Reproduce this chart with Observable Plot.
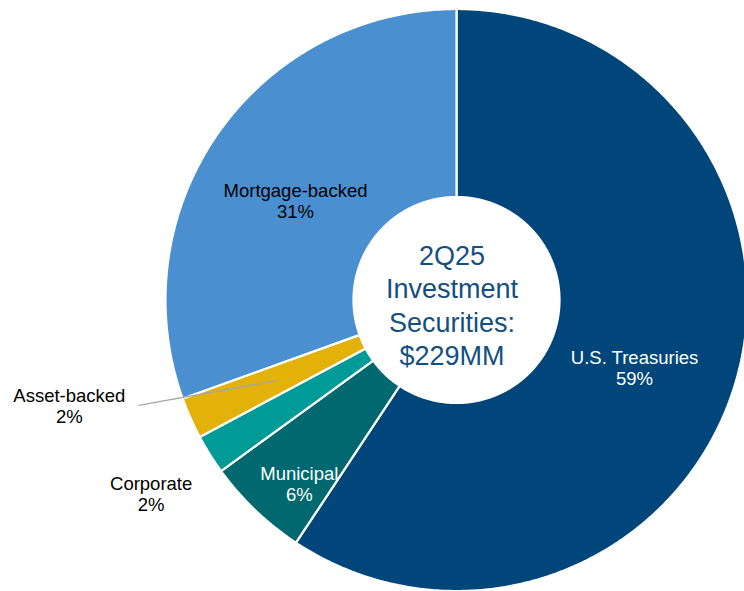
<!DOCTYPE html>
<html>
<head>
<meta charset="utf-8">
<script src="https://cdn.jsdelivr.net/npm/d3@7"></script>
<script src="https://cdn.jsdelivr.net/npm/@observablehq/plot@0.6"></script>
<style>
  html, body { margin: 0; padding: 0; background: #fff; overflow: hidden; }
  #chart svg { display: block; }
</style>
</head>
<body>
<div id="chart"></div>
<script>
// ---- data ----
const categories = ["U.S. Treasuries", "Municipal", "Corporate", "Asset-backed", "Mortgage-backed"];
const shares = [59.3, 5.7, 2.2, 2.3, 30.5]; // percent of $229MM
const centerTitle = ["2Q25", "Investment", "Securities:", "$229MM"];

// ---- style / layout ----
const colors = ["#00467A", "#00686F", "#009B96", "#E2B20A", "#4A8FD0"];
const labelColors = ["#ffffff", "#ffffff", "#000000", "#000000", "#000000"];
// label placement: radius (in outer-radius units) and angle offset (deg) from slice middle
const labelRadius = [0.652, 0.832, 1.244, 1.380, 0.653];
const labelAngleOffset = [3.9, -3.1, -0.3, 8.8, -3.3];
const leaderFor = "Asset-backed";
const leaderInner = {r: 0.678, da: 0};
const leaderOuter = {r: 1.152, da: 5.7};
const innerRadius = 0.354;

const W = 744, H = 591;
const cx = 456.5, cy = 300, R = 291;

// ---- pie geometry (angles clockwise from 12 o'clock) ----
const pie = d3.pie().sort(null).value(d => d.share)(categories.map((c, i) => ({category: c, share: shares[i], i})));
const polar = (r, a) => [r * Math.sin(a), r * Math.cos(a)];
const deg = Math.PI / 180;

const ring = [];
for (const p of pie) {
  const n = Math.max(2, Math.ceil((p.endAngle - p.startAngle) / deg * 2));
  for (let k = 0; k <= n; k++) {
    const a = p.startAngle + (p.endAngle - p.startAngle) * k / n;
    const [xi, yi] = polar(innerRadius, a);
    const [xo, yo] = polar(1, a);
    ring.push({category: p.data.category, xi, yi, xo, yo});
  }
}

const labels = pie.map(p => {
  const i = p.data.i;
  const mid = (p.startAngle + p.endAngle) / 2 + labelAngleOffset[i] * deg;
  const [x, y] = polar(labelRadius[i], mid);
  return {x, y, color: labelColors[i], text: `${p.data.category}\n${Math.round(p.data.share)}%`};
});

const leaders = pie.filter(p => p.data.category === leaderFor).map(p => {
  const mid = (p.startAngle + p.endAngle) / 2;
  const [x1, y1] = polar(leaderInner.r, mid + leaderInner.da * deg);
  const [x2, y2] = polar(leaderOuter.r, mid + leaderOuter.da * deg);
  return {x1, y1, x2, y2};
});

const chart = Plot.plot({
  width: W,
  height: H,
  margin: 0,
  style: {fontFamily: "'Liberation Sans', Arial, Helvetica, sans-serif", background: "#fff", overflow: "hidden"},
  x: {domain: [-cx / R, (W - cx) / R], axis: null},
  y: {domain: [-(H - cy) / R, cy / R], axis: null},
  color: {domain: categories, range: colors},
  marks: [
    Plot.area(ring, {x1: "xi", y1: "yi", x2: "xo", y2: "yo", z: "category", fill: "category",
      stroke: "#ffffff", strokeWidth: 2.2, strokeLinejoin: "miter"}),
    Plot.link(leaders, {x1: "x1", y1: "y1", x2: "x2", y2: "y2", stroke: "#A6A6A6", strokeWidth: 1.3}),
    Plot.text(labels.filter(d => d.color === "#ffffff"), {x: "x", y: "y", text: "text", fill: "#ffffff",
      fontSize: 18.5, lineHeight: 1.13}),
    Plot.text(labels.filter(d => d.color !== "#ffffff"), {x: "x", y: "y", text: "text", fill: "#000000",
      fontSize: 18.5, lineHeight: 1.13}),
    Plot.text([centerTitle.join("\n")], {x: () => 0, y: () => 0, text: d => d, fill: "#134F80",
      fontSize: 27, lineHeight: 1.24, dx: -5, dy: 4})
  ]
});
document.getElementById("chart").appendChild(chart);
</script>
</body>
</html>
